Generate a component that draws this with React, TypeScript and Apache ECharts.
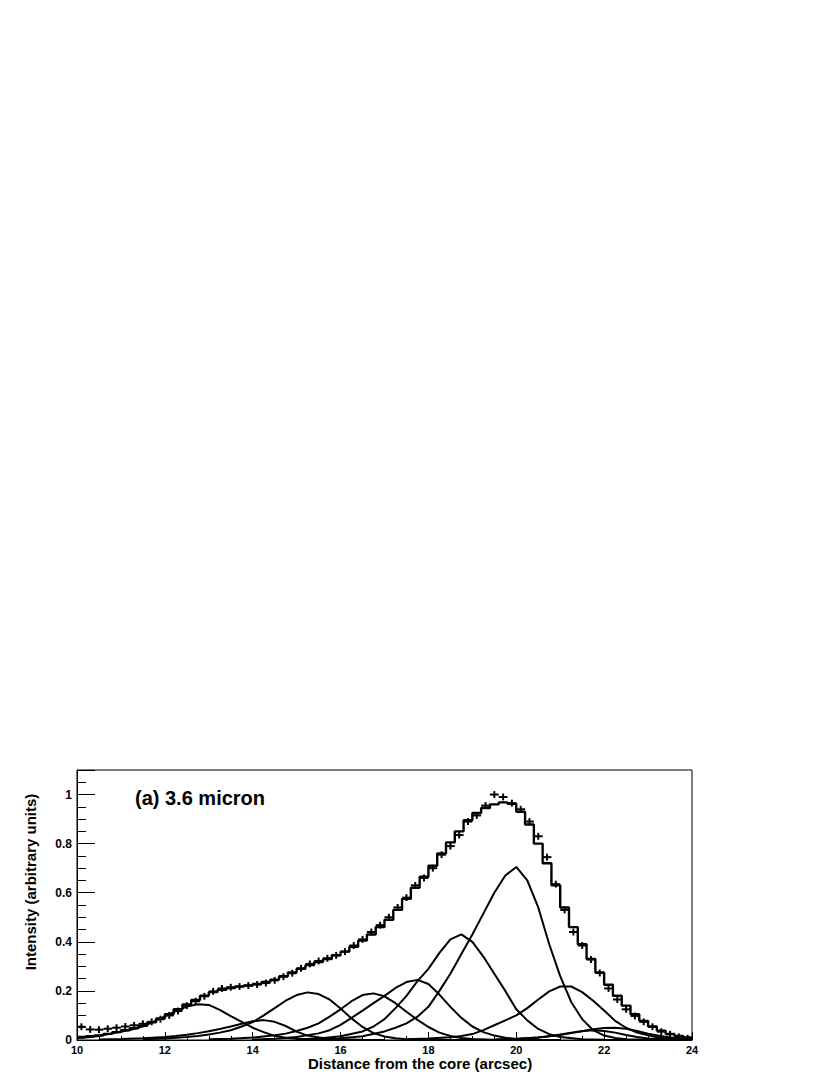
import React, { useEffect, useRef } from "react";
import * as echarts from "echarts";

// ---- Histogram binning (70 bins of 0.2 arcsec between 10 and 24) ----
const BIN_START = 10;
const BIN_WIDTH = 0.2;
const X_MIN = 10;
const X_MAX = 24;
const Y_MAX = 1.1;

// Measured intensity per bin (crosses)
const DATA_VALUES = [
  0.054, 0.043, 0.042, 0.046, 0.05, 0.055, 0.06, 0.066, 0.074, 0.085,
  0.1, 0.118, 0.14, 0.158, 0.178, 0.198, 0.21, 0.215, 0.218, 0.222,
  0.226, 0.232, 0.243, 0.258, 0.272, 0.292, 0.31, 0.322, 0.333, 0.345,
  0.36, 0.385, 0.41, 0.44, 0.468, 0.5, 0.54, 0.58, 0.63, 0.66,
  0.7, 0.755, 0.79, 0.835, 0.89, 0.915, 0.955, 1.0, 0.99, 0.965,
  0.94, 0.89, 0.83, 0.745, 0.635, 0.53, 0.44, 0.385, 0.328, 0.273,
  0.21, 0.165, 0.125, 0.098, 0.074, 0.054, 0.034, 0.023, 0.013, 0.007,
];
const DATA_ERROR = 0.014;

// Total fit, binned (step histogram)
const FIT_VALUES = [
  0.012, 0.015, 0.019, 0.025, 0.032, 0.04, 0.048, 0.058, 0.072, 0.088,
  0.105, 0.125, 0.145, 0.163, 0.18, 0.195, 0.205, 0.212, 0.218, 0.222,
  0.228, 0.236, 0.246, 0.26, 0.275, 0.29, 0.305, 0.318, 0.33, 0.345,
  0.36, 0.38, 0.405, 0.43, 0.46, 0.49, 0.53, 0.575, 0.62, 0.665,
  0.71, 0.76, 0.805, 0.85, 0.895, 0.925, 0.945, 0.96, 0.968, 0.962,
  0.93, 0.878, 0.8, 0.72, 0.63, 0.54, 0.46, 0.39, 0.33, 0.275,
  0.225, 0.18, 0.14, 0.105, 0.078, 0.055, 0.038, 0.025, 0.016, 0.01,
];

// Individual fit components [distance, intensity]
const COMP1: [number, number][] = [
  [10, 0.007], [10.25, 0.011], [10.5, 0.016], [10.75, 0.025], [11, 0.034], [11.25, 0.043],
  [11.5, 0.056], [11.75, 0.075], [12, 0.096], [12.25, 0.118], [12.5, 0.136], [12.75, 0.146],
  [13, 0.143], [13.25, 0.123], [13.5, 0.097], [13.75, 0.074], [14, 0.05], [14.25, 0.032],
  [14.5, 0.017], [14.75, 0.009], [15, 0.005], [15.5, 0.002], [16, 0.001], [17, 0],
];
const COMP2: [number, number][] = [
  [10.5, 0.002], [11, 0.004], [11.5, 0.007], [12, 0.012], [12.25, 0.016], [12.5, 0.021],
  [12.75, 0.028], [13, 0.036], [13.25, 0.045], [13.5, 0.055], [13.75, 0.066], [14, 0.076],
  [14.25, 0.081], [14.5, 0.074], [14.75, 0.057], [15, 0.034], [15.25, 0.018], [15.5, 0.01],
  [15.75, 0.006], [16, 0.003], [16.5, 0.001], [17, 0],
];
const COMP3: [number, number][] = [
  [11.5, 0.003], [12, 0.006], [12.5, 0.012], [12.75, 0.016], [13, 0.022], [13.25, 0.03],
  [13.5, 0.04], [13.75, 0.055], [14, 0.073], [14.25, 0.1], [14.5, 0.13], [14.75, 0.16],
  [15, 0.183], [15.25, 0.194], [15.5, 0.187], [15.75, 0.165], [16, 0.128], [16.25, 0.088],
  [16.5, 0.053], [16.75, 0.028], [17, 0.014], [17.25, 0.007], [17.5, 0.003], [18, 0.001], [19, 0],
];
const COMP4: [number, number][] = [
  [13, 0.003], [13.5, 0.005], [14, 0.01], [14.5, 0.019], [14.75, 0.026], [15, 0.037],
  [15.25, 0.05], [15.5, 0.068], [15.75, 0.095], [16, 0.125], [16.25, 0.158], [16.5, 0.183],
  [16.75, 0.19], [17, 0.178], [17.25, 0.15], [17.5, 0.115], [17.75, 0.082], [18, 0.053],
  [18.25, 0.03], [18.5, 0.016], [18.75, 0.008], [19, 0.004], [19.5, 0.001], [20, 0],
];
const COMP5: [number, number][] = [
  [14, 0.002], [14.5, 0.005], [15, 0.012], [15.5, 0.027], [15.75, 0.04], [16, 0.062],
  [16.25, 0.09], [16.5, 0.12], [16.75, 0.15], [17, 0.18], [17.25, 0.212], [17.5, 0.236],
  [17.75, 0.245], [18, 0.228], [18.25, 0.185], [18.5, 0.135], [18.75, 0.09], [19, 0.055],
  [19.25, 0.032], [19.5, 0.018], [19.75, 0.009], [20, 0.004], [20.5, 0.001], [21, 0],
];
const COMP6: [number, number][] = [
  [15, 0.003], [15.5, 0.006], [16, 0.015], [16.5, 0.035], [16.75, 0.055], [17, 0.085],
  [17.25, 0.13], [17.5, 0.18], [17.75, 0.24], [18, 0.29], [18.25, 0.355], [18.5, 0.41],
  [18.75, 0.43], [19, 0.4], [19.25, 0.34], [19.5, 0.27], [19.75, 0.2], [20, 0.125],
  [20.25, 0.08], [20.5, 0.045], [20.75, 0.024], [21, 0.012], [21.5, 0.003], [22, 0.001], [23, 0],
];
const COMP7: [number, number][] = [
  [15.5, 0.003], [16, 0.007], [16.5, 0.015], [17, 0.035], [17.25, 0.05], [17.5, 0.068],
  [17.75, 0.095], [18, 0.135], [18.25, 0.2], [18.5, 0.27], [18.75, 0.35], [19, 0.43],
  [19.25, 0.515], [19.5, 0.6], [19.75, 0.67], [20, 0.705], [20.25, 0.65], [20.5, 0.54],
  [20.75, 0.39], [21, 0.26], [21.25, 0.155], [21.5, 0.085], [21.75, 0.04], [22, 0.018],
  [22.25, 0.008], [22.5, 0.003], [23, 0.001], [24, 0],
];
const COMP8: [number, number][] = [
  [17.5, 0.003], [18, 0.006], [18.5, 0.011], [18.75, 0.016], [19, 0.024], [19.25, 0.04],
  [19.5, 0.06], [19.75, 0.08], [20, 0.1], [20.25, 0.13], [20.5, 0.165], [20.75, 0.198],
  [21, 0.218], [21.25, 0.218], [21.5, 0.195], [21.75, 0.16], [22, 0.12], [22.25, 0.078],
  [22.5, 0.05], [22.75, 0.03], [23, 0.019], [23.25, 0.01], [23.5, 0.005], [24, 0.001],
];
const COMP9: [number, number][] = [
  [19.5, 0.002], [20, 0.005], [20.5, 0.01], [21, 0.02], [21.25, 0.028], [21.5, 0.036],
  [21.75, 0.044], [22, 0.049], [22.25, 0.05], [22.5, 0.046], [22.75, 0.037], [23, 0.026],
  [23.25, 0.017], [23.5, 0.01], [24, 0.003],
];
const COMP10: [number, number][] = [
  [19.5, 0.001], [20, 0.004], [20.5, 0.01], [20.75, 0.015], [21, 0.022], [21.25, 0.03],
  [21.5, 0.037], [21.75, 0.04], [22, 0.037], [22.25, 0.03], [22.5, 0.02], [22.75, 0.012],
  [23, 0.006], [23.5, 0.002], [24, 0],
];
const COMPONENTS = [COMP1, COMP2, COMP3, COMP4, COMP5, COMP6, COMP7, COMP8, COMP9, COMP10];

const X_TITLE = "Distance from the core (arcsec)";
const Y_TITLE = "Intensity (arbitrary units)";
const PANEL_LABEL = "(a) 3.6 micron";

const FONT = '"Liberation Sans", Arial, Helvetica, sans-serif';

export default function App() {
  const ref = useRef<HTMLDivElement>(null);

  useEffect(() => {
    if (!ref.current) return;
    const chart = echarts.init(ref.current, null, { renderer: "svg" });

    const stepData: [number, number][] = FIT_VALUES.map((v, i) => [BIN_START + i * BIN_WIDTH, v]);
    stepData.push([BIN_START + FIT_VALUES.length * BIN_WIDTH, FIT_VALUES[FIT_VALUES.length - 1]]);

    const crossData = DATA_VALUES.map((v, i) => [BIN_START + (i + 0.5) * BIN_WIDTH, v]);

    const grid = { left: 77, top: 770, width: 615, height: 270 };

    const option: any = {
      animation: false,
      backgroundColor: "#fff",
      grid: { ...grid, show: true, borderColor: "#000", borderWidth: 1, backgroundColor: "transparent" },
      xAxis: {
        type: "value",
        min: X_MIN,
        max: X_MAX,
        interval: 2,
        axisLine: { show: true, onZero: false, lineStyle: { color: "#000", width: 1 } },
        axisTick: { show: true, inside: true, length: 8, lineStyle: { color: "#000", width: 1 } },
        minorTick: { show: true, splitNumber: 4, length: 4, lineStyle: { color: "#000", width: 1 } },
        splitLine: { show: false },
        axisLabel: {
          color: "#000",
          fontWeight: "bold",
          fontSize: 11,
          fontFamily: FONT,
          margin: 4,
          showMinLabel: true,
          showMaxLabel: true,
        },
      },
      yAxis: [
        {
          type: "value",
          min: 0,
          max: Y_MAX,
          interval: 0.2,
          axisLine: { show: true, onZero: false, lineStyle: { color: "#000", width: 1 } },
          axisTick: { show: true, inside: true, length: 18, lineStyle: { color: "#000", width: 1 } },
          splitLine: { show: false },
          axisLabel: {
            color: "#000",
            fontWeight: "bold",
            fontSize: 12,
            fontFamily: FONT,
            margin: 5,
            formatter: (v: number) => (v > 1.05 ? "" : String(Math.round(v * 10) / 10)),
          },
        },
        {
          type: "value",
          position: "left",
          min: 0,
          max: Y_MAX,
          interval: 0.05,
          axisLine: { show: false },
          axisTick: { show: true, inside: true, length: 9, lineStyle: { color: "#000", width: 1 } },
          splitLine: { show: false },
          axisLabel: { show: false },
        },
      ],
      graphic: [
        {
          type: "text",
          x: 135,
          y: 798,
          style: {
            text: PANEL_LABEL,
            font: `bold 20px ${FONT}`,
            fill: "#000",
            align: "left",
            verticalAlign: "middle",
          },
        },
        {
          type: "text",
          x: 30,
          y: 882,
          rotation: Math.PI / 2,
          style: {
            text: Y_TITLE,
            font: `bold 15px ${FONT}`,
            fill: "#000",
            align: "center",
            verticalAlign: "middle",
          },
        },
        {
          type: "text",
          x: 420,
          y: 1063,
          style: {
            text: X_TITLE,
            font: `bold 15px ${FONT}`,
            fill: "#000",
            align: "center",
            verticalAlign: "middle",
          },
        },
      ],
      series: [
        ...COMPONENTS.map((c) => ({
          type: "line",
          data: c,
          symbol: "none",
          smooth: false,
          clip: true,
          silent: true,
          lineStyle: { color: "#000", width: 2 },
        })),
        {
          type: "line",
          data: stepData,
          step: "end",
          symbol: "none",
          clip: true,
          silent: true,
          lineStyle: { color: "#000", width: 2.4 },
        },
        {
          type: "custom",
          data: crossData,
          clip: true,
          silent: true,
          renderItem: (_params: any, api: any) => {
            const x = api.value(0);
            const y = api.value(1);
            const l = api.coord([x - BIN_WIDTH / 2, y]);
            const r = api.coord([x + BIN_WIDTH / 2, y]);
            const t = api.coord([x, y + DATA_ERROR]);
            const b = api.coord([x, y - DATA_ERROR]);
            const style = { stroke: "#000", lineWidth: 2 };
            return {
              type: "group",
              children: [
                { type: "line", shape: { x1: l[0], y1: l[1], x2: r[0], y2: r[1] }, style },
                { type: "line", shape: { x1: t[0], y1: t[1], x2: b[0], y2: b[1] }, style },
              ],
            };
          },
        },
      ],
    };

    chart.setOption(option);
    return () => chart.dispose();
  }, []);

  return (
    <div
      ref={ref}
      style={{ position: "absolute", left: 0, top: 0, width: 830, height: 1075, background: "#fff" }}
    />
  );
}
